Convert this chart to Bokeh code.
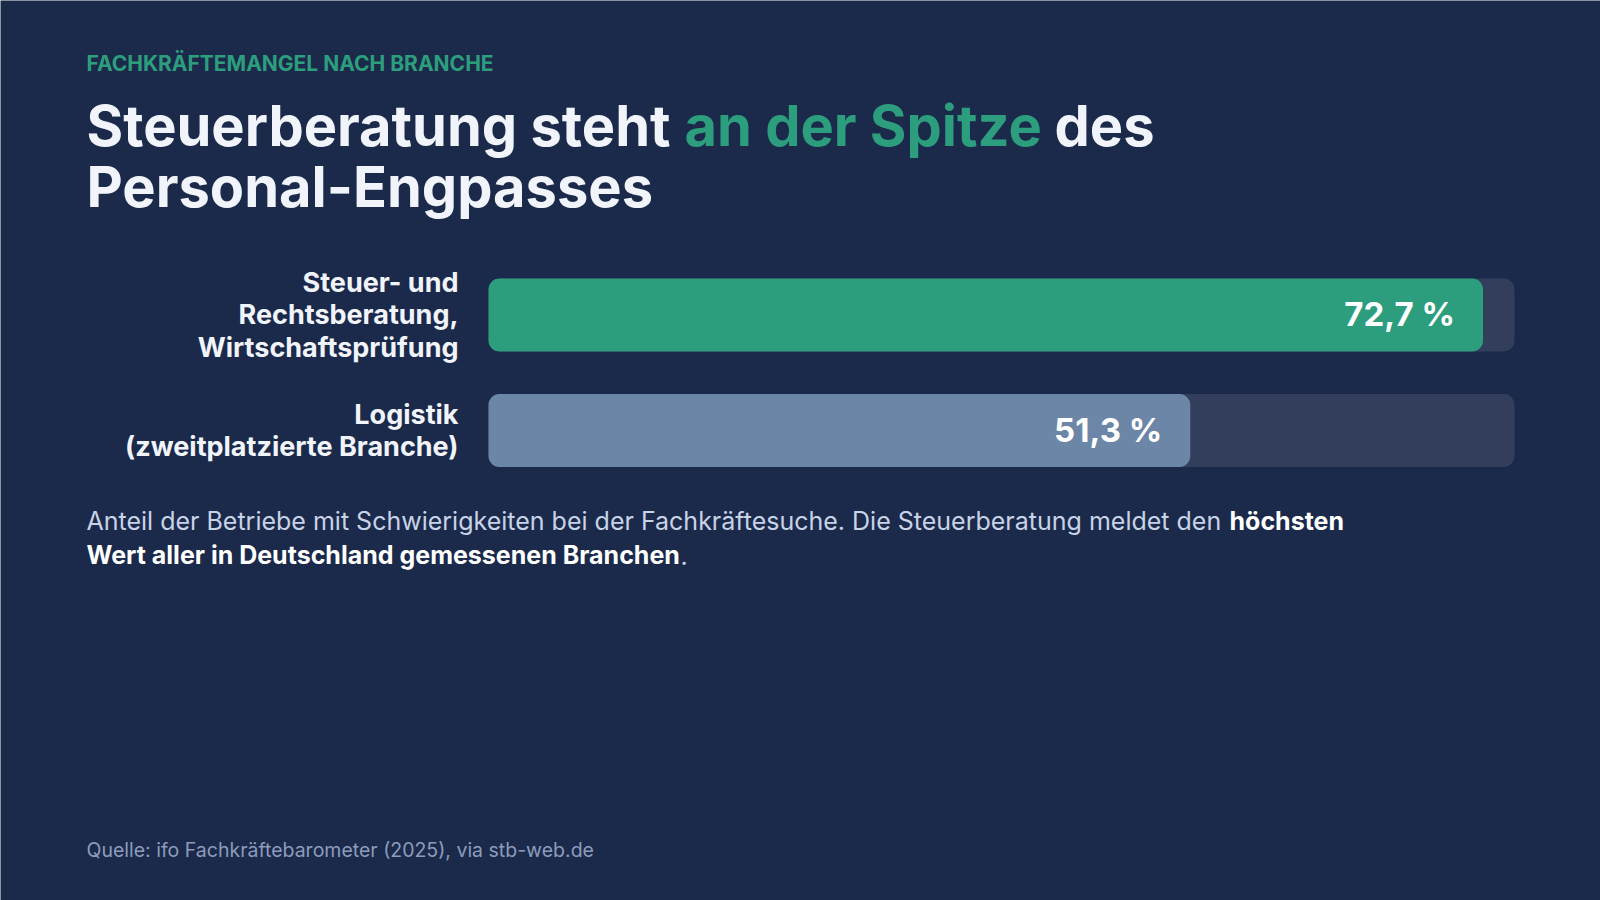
from bokeh.plotting import figure
from bokeh.models import Range1d, Label, ColumnDataSource
from bokeh.embed import file_html
from bokeh.resources import INLINE
from bokeh.core.properties import value

# ---- data -------------------------------------------------------------
categories = [
    "Steuer- und\nRechtsberatung,\nWirtschaftsprüfung",
    "Logistik\n(zweitplatzierte Branche)",
]
shares = [72.7, 51.3]          # % of firms reporting skilled-worker shortage
scale_max = 75                 # full length of the grey track

# ---- styling ----------------------------------------------------------
FONT = "Inter"
BG = "#1b2a4a"
TRACK = "#323e5c"
GREEN = "#2d9e7d"
SLATE = "#6c86a8"
WHITE = "#f1f5fb"
TEXT_SOFT = "#c8d3e8"
TEXT_MUTED = "#8d9cbc"
bar_colors = [GREEN, SLATE]

W, H = 1600, 900
TRACK_LEFT, TRACK_RIGHT = 488, 1514    # pixel span of the 0..scale_max axis
ROW0, ROW_STEP, BAR_PX = 314.5, 115.5, 73

px_per_unit = (TRACK_RIGHT - TRACK_LEFT) / scale_max
x_range = Range1d(-TRACK_LEFT / px_per_unit, (W - TRACK_LEFT) / px_per_unit)
y_range = Range1d((H - ROW0) / ROW_STEP, -ROW0 / ROW_STEP)   # row 0 on top

p = figure(width=W, height=H, x_range=x_range, y_range=y_range,
           output_backend="svg", toolbar_location=None,
           x_axis_location=None, y_axis_location=None,
           min_border=0, outline_line_color=None,
           background_fill_color=BG, border_fill_color=BG)
p.grid.visible = False

rows = list(range(len(categories)))
value_text = [f"{v:.1f}".replace(".", ",") + " %" for v in shares]
src = ColumnDataSource(dict(y=rows, share=shares, cat=categories,
                            label=value_text, color=bar_colors,
                            full=[scale_max] * len(rows)))

bar_h = BAR_PX / ROW_STEP
p.hbar(y="y", left=0, right="full", height=bar_h, source=src,
       fill_color=TRACK, line_color=None, border_radius=11)
p.hbar(y="y", left=0, right="share", height=bar_h, source=src,
       fill_color="color", line_color=None, border_radius=11)

# value labels inside the bar ends
p.text(x="share", y="y", text="label", source=src, x_offset=-28, y_offset=-1,
       text_align="right", text_baseline="middle",
       text_font=value(FONT), text_font_style="bold",
       text_font_size="33px", text_color="#ffffff")

# category labels left of the tracks
p.text(x=0, y="y", text="cat", source=src, x_offset=-30,
       text_align="right", text_baseline="middle", text_line_height=0.97,
       text_font=value(FONT), text_font_style="bold",
       text_font_size="27px", text_color=WHITE)


def put(txt, x, baseline, size, color, bold=False):
    # screen y counts from the bottom; lift by the font's descent box
    p.add_layout(Label(x=x, y=H - baseline + 0.38 * size,
                       x_units="screen", y_units="screen",
                       text=txt, text_font=FONT, text_font_size=f"{size}px",
                       text_font_style="bold" if bold else "normal",
                       text_color=color, text_align="left",
                       text_baseline="alphabetic"))


# eyebrow
put("FACHKRÄFTEMANGEL NACH BRANCHE", 86, 71, 21, GREEN, bold=True)

# headline
put("Steuerberatung steht", 86, 147, 56, WHITE, bold=True)
put("an der Spitze", 684, 147, 56, GREEN, bold=True)
put("des", 1054, 147, 56, WHITE, bold=True)
put("Personal-Engpasses", 86, 208, 56, WHITE, bold=True)

# description
put("Anteil der Betriebe mit Schwierigkeiten bei der Fachkräftesuche. "
    "Die Steuerberatung meldet den", 86, 530, 25, TEXT_SOFT)
put("höchsten", 1229, 530, 25, "#ffffff", bold=True)
put("Wert aller in Deutschland gemessenen Branchen", 86, 564, 25,
    "#ffffff", bold=True)
put(".", 680, 564, 25, TEXT_SOFT)

# source
put("Quelle: ifo Fachkräftebarometer (2025), via stb-web.de", 86, 857, 19.5,
    TEXT_MUTED)

html = file_html(p, INLINE)
html = html.replace("<body>", f'<body style="margin:0;background:{BG}">', 1)
open("out.html", "w").write(html)
